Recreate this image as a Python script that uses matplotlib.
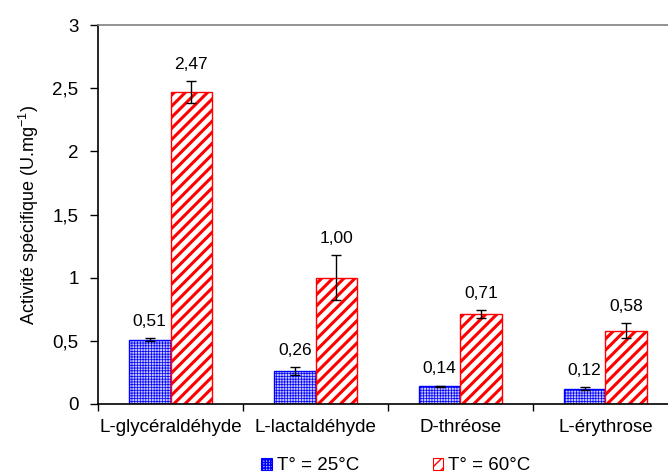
import matplotlib

matplotlib.use("Agg")

import matplotlib.pyplot as plt
import numpy as np
from matplotlib.patches import Patch

plt.rcParams["font.family"] = ["Liberation Sans", "DejaVu Sans"]
plt.rcParams["mathtext.fontset"] = "custom"
plt.rcParams["mathtext.rm"] = "Liberation Sans"
plt.rcParams["mathtext.it"] = "Liberation Sans:italic"
plt.rcParams["mathtext.bf"] = "Liberation Sans:bold"

categories = ["L-glycéraldéhyde", "L-lactaldéhyde", "D-thréose", "L-érythrose"]
series_names = ["T° = 25°C", "T° = 60°C"]
values_25 = [0.51, 0.26, 0.14, 0.12]
errors_25 = [0.015, 0.03, 0.006, 0.012]
values_60 = [2.47, 1.00, 0.71, 0.58]
errors_60 = [0.085, 0.18, 0.033, 0.06]
yticks = [0, 0.5, 1, 1.5, 2, 2.5, 3]
ytick_labels = ["0", "0,5", "1", "1,5", "2", "2,5", "3"]

BLUE = "#0000ff"
RED = "#ff0000"
BLUE_FILL = "#c4c4ff"

fig = plt.figure(figsize=(6.68, 4.75), dpi=100)
# plot area runs past the right edge of the picture, as in the reference
ax = fig.add_axes([98 / 668, 71 / 475, 580 / 668, 379 / 475])

x = np.arange(len(categories))
width = 0.287

# hatch line width is taken from rcParams when the patch is made
with matplotlib.rc_context({"hatch.linewidth": 0.5}):
    bars_25 = ax.bar(x - width / 2, values_25, width, facecolor=BLUE_FILL,
                     edgecolor=BLUE, hatch="++++++", linewidth=1.0, zorder=2)
    blue_handle = Patch(facecolor=BLUE_FILL, edgecolor=BLUE, hatch="++++++", linewidth=0.8)
with matplotlib.rc_context({"hatch.linewidth": 2.2}):
    bars_60 = ax.bar(x + width / 2, values_60, width, facecolor="white",
                     edgecolor=RED, hatch="///", linewidth=1.0, zorder=2)
with matplotlib.rc_context({"hatch.linewidth": 1.5}):
    red_handle = Patch(facecolor="white", edgecolor=RED, hatch="///", linewidth=0.8)

ax.errorbar(x - width / 2, values_25, yerr=errors_25, fmt="none", ecolor="black",
            elinewidth=1.0, capsize=3.5, capthick=1.0, zorder=3)
ax.errorbar(x + width / 2, values_60, yerr=errors_60, fmt="none", ecolor="black",
            elinewidth=1.0, capsize=3.5, capthick=1.0, zorder=3)

for xs, vals, errs in ((x - width / 2, values_25, errors_25), (x + width / 2, values_60, errors_60)):
    for xi, v, e in zip(xs, vals, errs):
        ax.annotate(f"{v:.2f}".replace(".", ","), (xi, v + e), xytext=(0, 12),
                    textcoords="offset points", ha="center", va="center", fontsize=12.5)

ax.set_xlim(-0.5, len(categories) - 0.5)
ax.set_ylim(0, 3)
ax.set_yticks(yticks)
ax.set_yticklabels(ytick_labels, fontsize=13.5)
ax.set_xticks(x)
ax.set_xticklabels(categories, fontsize=13.5)
ax.set_xticks(np.arange(len(categories) + 1) - 0.5, minor=True)
ax.tick_params(axis="x", which="major", length=0, pad=11)
ax.tick_params(axis="x", which="minor", length=5, width=1.0, direction="out")
ax.tick_params(axis="y", length=6, width=1.0, direction="out", pad=8)
ax.set_ylabel("Activité spécifique (U.mg$^{-1}$)", fontsize=13, labelpad=8)

ax.spines["right"].set_visible(False)
ax.spines["top"].set_color("#808080")
ax.spines["top"].set_linewidth(1.2)
ax.spines["left"].set_linewidth(1.2)
ax.spines["bottom"].set_linewidth(1.2)

fig.legend([blue_handle, red_handle], series_names, loc="center",
           bbox_to_anchor=(396 / 668, 1 - 466 / 475), ncol=2, frameon=False,
           fontsize=13.5, handlelength=0.55, handleheight=0.55,
           handletextpad=0.3, columnspacing=3.9)

fig.savefig("out.png", dpi=100)
